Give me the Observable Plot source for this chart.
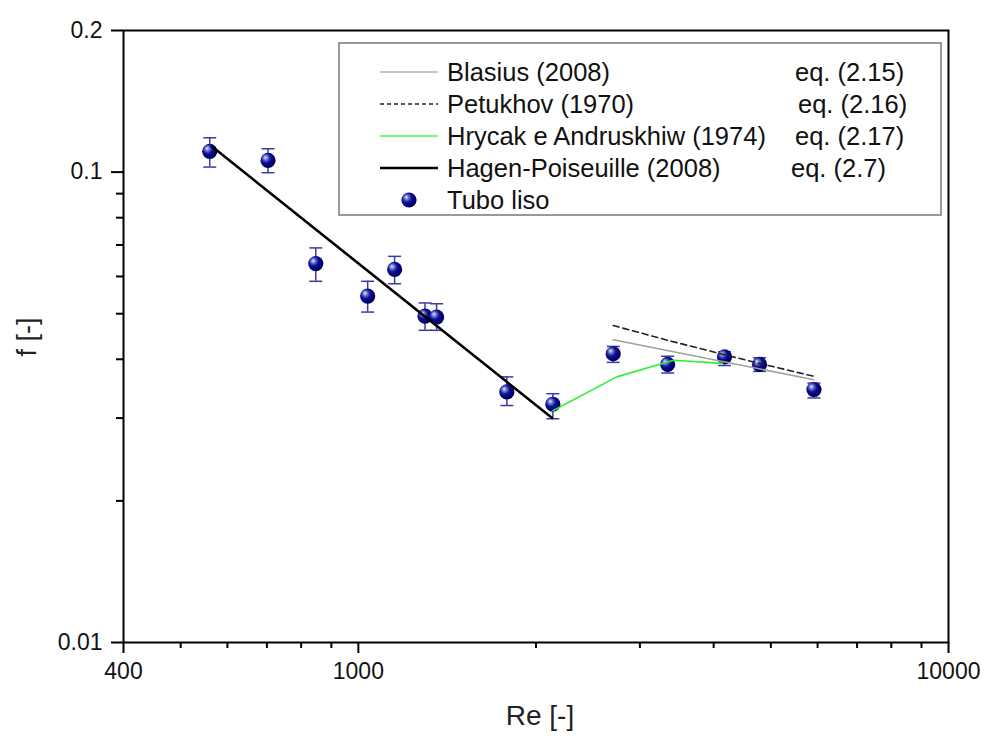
<!DOCTYPE html>
<html><head><meta charset="utf-8">
<script src="https://cdn.jsdelivr.net/npm/d3@7"></script>
<script src="https://cdn.jsdelivr.net/npm/@observablehq/plot@0.6"></script>
<style>
body{margin:0;background:#fff;font-family:"Liberation Sans",Arial,sans-serif}
#wrap{position:relative;width:984px;height:736px;overflow:hidden}
#legend{position:absolute;left:0;top:0}
</style></head><body><div id="wrap"></div>
<script>
// Experimental data: smooth tube ("Tubo liso")
const re  = [560, 703, 847, 1037, 1152, 1297, 1357, 1785, 2136, 2703, 3343, 4173, 4784, 5916];
const f   = [0.1107, 0.1059, 0.0639, 0.0545, 0.0621, 0.0494, 0.0492, 0.0341, 0.0321, 0.0411, 0.0390, 0.0405, 0.0390, 0.0345];
const fHi = [0.1183, 0.1121, 0.0690, 0.0586, 0.0662, 0.0527, 0.0525, 0.0367, 0.0338, 0.0426, 0.0406, 0.0415, 0.0403, 0.0356];
const fLo = [0.1025, 0.0997, 0.0586, 0.0504, 0.0579, 0.0461, 0.0461, 0.0319, 0.0299, 0.0394, 0.0374, 0.0388, 0.0377, 0.0331];

// Correlation curves
const reHagen = [565, 2130];            const fHagen = [0.1133, 0.0300];
const reBlas  = [2703, 5916];           const fBlas  = [0.0440, 0.0362];
const rePet   = [2703, 3343, 4173, 4784, 5916]; const fPet = [0.0472, 0.0439, 0.0409, 0.0392, 0.0368];
const reHry   = [2136, 2740, 3420, 4140];       const fHry = [0.0311, 0.0367, 0.0398, 0.0392];

// Ticks
const xMajor = [400, 1000, 10000];
const xMinor = [500, 600, 700, 800, 900, 2000, 3000, 4000, 5000, 6000, 7000, 8000, 9000];
const yMajor = [0.01, 0.1, 0.2];
const yMinor = [0.02, 0.03, 0.04, 0.05, 0.06, 0.07, 0.08, 0.09];

// Legend
const legendNames = ["Blasius (2008)", "Petukhov (1970)", "Hrycak e Andruskhiw (1974)", "Hagen-Poiseuille (2008)", "Tubo liso"];
const legendEqs   = ["eq. (2.15)", "eq. (2.16)", "eq. (2.17)", "eq. (2.7)", ""];

const pts = re.map((r, i) => ({re: r, f: f[i], lo: fLo[i], hi: fHi[i]}));
const toRows = (xs, ys) => xs.map((x, i) => ({re: x, f: ys[i]}));

const capSymbol = {draw(ctx, size) { const w = Math.sqrt(size / Math.PI); ctx.moveTo(-w, 0); ctx.lineTo(w, 0); }};
const errColor = "#3b3ba6";
const font = "Liberation Sans, Arial, sans-serif";

const chart = Plot.plot({
  width: 984, height: 736,
  marginLeft: 123, marginRight: 36, marginTop: 30, marginBottom: 94,
  style: {fontFamily: font, color: "black", background: "white"},
  x: {type: "log", domain: [400, 10000]},
  y: {type: "log", domain: [0.01, 0.2]},
  marks: [
    Plot.axisX(xMinor, {tickSize: 6, strokeWidth: 2, tickFormat: () => "", label: null}),
    Plot.axisX(xMajor, {tickSize: 11, strokeWidth: 2, tickPadding: 9, fontSize: 23, fill: "#111", tickFormat: d => String(d), label: null}),
    Plot.axisY(yMinor, {tickSize: 7, strokeWidth: 2, tickFormat: () => "", label: null}),
    Plot.axisY(yMajor, {tickSize: 12, strokeWidth: 2, tickPadding: 9, fontSize: 23, fill: "#111", tickFormat: d => String(d), label: null}),
    Plot.frame({stroke: "black", strokeWidth: 2}),
    Plot.ruleX(pts, {x: "re", y1: "lo", y2: "hi", stroke: errColor, strokeWidth: 1.5}),
    Plot.dot(pts, {x: "re", y: "hi", symbol: capSymbol, r: 6.5, stroke: errColor, strokeWidth: 1.5, fill: "none"}),
    Plot.dot(pts, {x: "re", y: "lo", symbol: capSymbol, r: 6.5, stroke: errColor, strokeWidth: 1.5, fill: "none"}),
    Plot.dot(pts, {x: "re", y: "f", r: 7.6, fill: "url(#ball)", stroke: "none"}),
    Plot.line(toRows(reBlas, fBlas), {x: "re", y: "f", stroke: "#a0a0a0", strokeWidth: 1.6}),
    Plot.line(toRows(rePet, fPet), {x: "re", y: "f", stroke: "#222", strokeWidth: 1.6, strokeDasharray: "6,4"}),
    Plot.line(toRows(reHry, fHry), {x: "re", y: "f", stroke: "#33ee33", strokeWidth: 1.6}),
    Plot.line(toRows(reHagen, fHagen), {x: "re", y: "f", stroke: "black", strokeWidth: 2.6}),
    Plot.text(["Re [-]"], {frameAnchor: "bottom", dy: 82, dx: 4, fontSize: 28, fill: "#222"}),
    Plot.text(["f [-]"], {frameAnchor: "left", dx: -96, dy: 20, rotate: -90, fontSize: 27, fill: "#222"})
  ]
});

const svg = d3.select(chart);
const grad = svg.insert("defs", ":first-child").append("radialGradient")
  .attr("id", "ball").attr("cx", "40%").attr("cy", "40%").attr("r", "62%").attr("fx", "32%").attr("fy", "30%");
[["0%", "#e8f0ff"], ["22%", "#7080c8"], ["50%", "#101098"], ["80%", "#000078"], ["100%", "#000040"]]
  .forEach(([o, c]) => grad.append("stop").attr("offset", o).attr("stop-color", c));

document.getElementById("wrap").appendChild(chart);

// Legend overlay
const lg = d3.select("#wrap").append("svg").attr("id", "legend").attr("width", 984).attr("height", 736)
  .style("font-family", font);
lg.append("rect").attr("x", 339).attr("y", 43).attr("width", 602).attr("height", 172)
  .attr("fill", "white").attr("stroke", "#808080").attr("stroke-width", 1.6);
const rowY = i => 72 + i * 32;
const sampleStyles = [
  {stroke: "#b0b0b0", w: 1.6, dash: null},
  {stroke: "#222", w: 1.4, dash: "4,3"},
  {stroke: "#44ff44", w: 1.6, dash: null},
  {stroke: "black", w: 2.6, dash: null}
];
sampleStyles.forEach((s, i) => {
  lg.append("line").attr("x1", 380).attr("x2", 438).attr("y1", rowY(i)).attr("y2", rowY(i))
    .attr("stroke", s.stroke).attr("stroke-width", s.w).attr("stroke-dasharray", s.dash);
});
lg.append("circle").attr("cx", 409).attr("cy", rowY(4)).attr("r", 7.6).attr("fill", "url(#ball)");
const eqX = [795, 798, 795, 791, 795];
legendNames.forEach((t, i) => {
  lg.append("text").attr("x", 447).attr("y", rowY(i)).attr("dy", "0.36em")
    .attr("font-size", 25.5).attr("fill", "#111").text(t);
  if (legendEqs[i]) lg.append("text").attr("x", eqX[i]).attr("y", rowY(i)).attr("dy", "0.36em")
    .attr("font-size", 25.5).attr("fill", "#111").text(legendEqs[i]);
});
</script></body></html>
